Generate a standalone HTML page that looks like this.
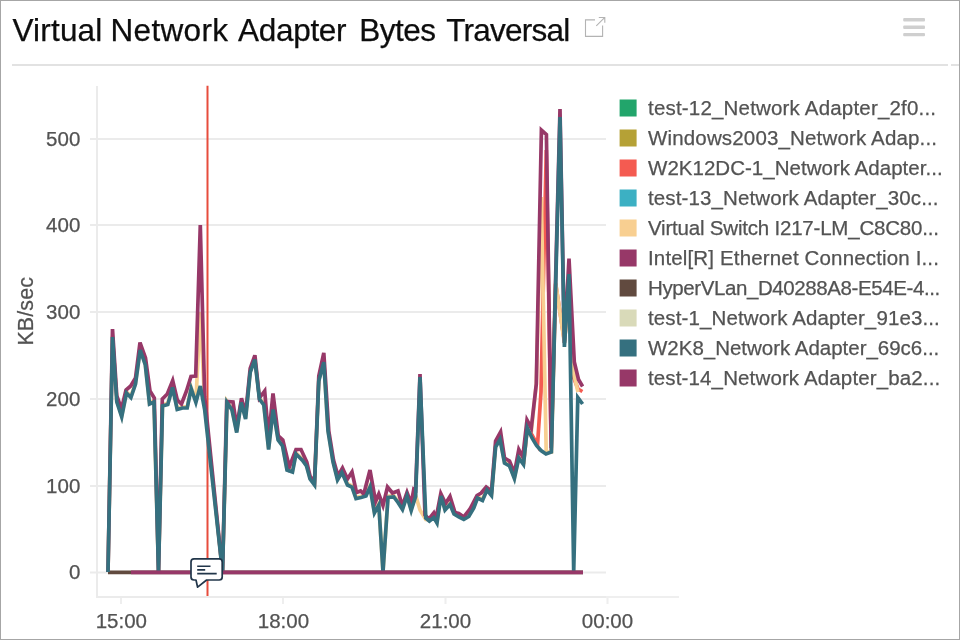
<!DOCTYPE html>
<html><head><meta charset="utf-8"><title>Virtual Network Adapter Bytes Traversal</title>
<style>
html,body{margin:0;padding:0;background:#fff;}
body{width:960px;height:640px;position:relative;overflow:hidden;font-family:"Liberation Sans", sans-serif;}
.frame{position:absolute;left:0;top:0;width:958px;height:638px;border:1px solid #a6a6a6;z-index:5;pointer-events:none}
.title{position:absolute;left:0;top:10px;font-size:31.5px;line-height:40px;color:#0d0d0d;-webkit-text-stroke:0.25px #0d0d0d;white-space:nowrap;height:40px;width:600px}
.title span{position:absolute;top:0;white-space:pre}
.hr{position:absolute;left:12px;top:64.3px;height:1.6px;background:#e2e2e2}
</style></head><body>
<div class="title" id="title"><span style="left:12.5px;letter-spacing:0.18px">Virtual </span><span style="left:110.5px;letter-spacing:0.33px">Network </span><span style="left:238.1px;letter-spacing:-0.31px">Adapter </span><span style="left:359.25px;letter-spacing:-0.5px">Bytes </span><span style="left:446.25px;letter-spacing:-0.77px">Traversal</span></div>
<div class="hr" style="width:936px"></div>
<div class="hr" style="left:951.3px;width:8px"></div>
<svg width="960" height="640" viewBox="0 0 960 640" style="position:absolute;left:0;top:0">
<rect x="90" y="138" width="516" height="2" fill="#ebebeb"/>
<rect x="90" y="224" width="516" height="2" fill="#ebebeb"/>
<rect x="90" y="311" width="516" height="2" fill="#ebebeb"/>
<rect x="90" y="398" width="516" height="2" fill="#ebebeb"/>
<rect x="90" y="485" width="516" height="2" fill="#ebebeb"/>
<rect x="90" y="571.5" width="516" height="2" fill="#ebebeb"/>
<rect x="96" y="86" width="2" height="512" fill="#ebebeb"/>
<rect x="96" y="596" width="510" height="2" fill="#ebebeb"/>
<rect x="606" y="596" width="73" height="2" fill="#efefef"/>
<rect x="120" y="598" width="2" height="6" fill="#eeeeee"/>
<rect x="282" y="598" width="2" height="6" fill="#eeeeee"/>
<rect x="444.5" y="598" width="2" height="6" fill="#eeeeee"/>
<rect x="606.5" y="598" width="2" height="6" fill="#eeeeee"/>
<line x1="207.5" x2="207.5" y1="85.7" y2="596" stroke="#e74c3c" stroke-width="2"/>
<path d="M523.5 464.0 L527.3 428.0 L532.0 435.0 L537.5 445.0 L541.0 392.0 L546.3 150.0 L551.2 450.0 L555.7 284.0 L564.4 341.0 L569.0 296.0 L573.8 378.0 L578.0 389.0 L582.4 391.5" stroke="#f45b51" fill="none" stroke-width="3.7" stroke-linejoin="miter" stroke-linecap="butt"/>
<path d="M108.0 572.0 L112.5 335.8 L116.8 400.8 L121.7 415.8 L126.5 391.8 L130.9 396.3 L135.5 382.8 L140.2 348.8 L145.3 363.8 L149.5 402.8 L154.0 400.8 L158.5 572.0 L162.5 404.8 L167.8 403.3 L172.5 386.3 L177.2 408.3 L182.5 406.8 L187.2 406.8 L191.2 387.5 L195.9 401.3 L200.3 312.0 L204.7 404.0 L222.5 572.0 L227.0 401.3 L232.0 408.8 L236.7 431.3 L241.2 401.3 L245.6 417.8 L250.2 371.3 L254.8 358.3 L259.4 397.8 L263.8 403.8 L268.6 448.3 L273.1 408.3 L278.1 438.8 L282.5 444.8 L287.0 468.8 L292.5 470.8 L296.0 452.8 L302.5 459.3 L306.5 464.8 L310.0 477.8 L314.5 483.8 L318.8 379.8 L323.8 361.0 L328.0 429.8 L333.0 460.8 L337.5 478.8 L341.9 471.3 L347.5 483.8 L351.9 485.8 L356.0 497.3 L361.0 496.3 L366.0 494.8 L370.0 485.8 L374.4 511.8 L378.8 503.8 L383.0 572.0 L388.0 496.3 L393.8 495.8 L398.0 501.3 L402.5 508.3 L407.0 494.8 L411.2 509.3 L415.6 495.3 L420.0 510.0 L425.8 519.5 L429.4 519.8 L433.8 516.3 L437.0 521.8 L441.0 494.8 L445.0 508.8 L450.0 503.3 L454.0 512.8 L458.8 515.8 L463.8 518.3 L468.8 515.3 L473.8 506.8 L477.5 496.8 L482.5 499.3 L487.0 488.8 L491.5 494.3 L495.6 445.8 L500.0 438.3 L504.5 461.8 L509.5 464.8 L514.4 477.3 L518.8 456.8 L523.5 463.3 L527.3 426.8 L531.5 430.0 L536.3 384.0 L541.3 197.0 L546.2 451.5 L551.4 452.0 L555.7 283.0 L564.4 343.0 L569.0 292.0 L573.8 374.0 L578.0 392.0" stroke="#f8cf91" fill="none" stroke-width="3.7" stroke-linejoin="miter" stroke-linecap="butt"/>
<path d="M108.0 572.0 L112.5 329.0 L116.8 396.0 L121.5 409.0 L126.0 390.0 L130.7 386.0 L135.5 378.0 L140.0 342.5 L145.5 358.0 L150.0 391.0 L154.3 398.0 L158.5 572.0 L162.3 399.0 L167.3 394.0 L172.7 380.5 L177.3 400.0 L181.5 404.0 L186.5 391.0 L191.0 376.5 L195.7 376.0 L200.3 225.0 L204.7 397.0 L222.5 572.0 L226.7 401.5 L233.0 402.0 L236.7 427.0 L241.5 398.3 L245.6 414.0 L250.2 368.5 L254.9 355.3 L259.4 398.0 L264.7 391.0 L268.6 438.0 L273.0 393.5 L278.3 436.0 L282.8 440.0 L289.3 467.0 L296.0 449.5 L301.0 449.5 L306.8 462.0 L310.0 476.0 L314.5 482.0 L318.8 376.0 L323.8 352.8 L328.8 431.0 L333.5 460.0 L338.0 476.0 L342.5 468.0 L347.5 479.0 L352.0 472.0 L356.5 492.5 L360.6 491.0 L363.8 494.0 L370.0 470.0 L375.6 501.5 L378.8 494.0 L383.0 505.5 L387.5 487.0 L392.5 493.0 L398.0 491.0 L402.3 506.0 L407.0 492.5 L411.2 503.5 L413.8 489.0 L415.6 490.0 L420.0 374.0 L425.0 515.0 L429.0 519.0 L433.8 513.0 L436.0 518.5 L440.8 493.5 L445.6 503.5 L450.0 496.5 L455.0 512.5 L458.8 513.5 L463.8 517.0 L470.0 509.0 L477.0 495.5 L481.2 493.0 L486.2 487.0 L491.5 491.0 L495.6 441.0 L500.6 432.0 L504.5 458.0 L509.5 461.0 L514.4 473.0 L518.8 449.5 L522.8 457.0 L527.0 420.0 L531.3 428.0 L536.3 384.0 L541.4 130.0 L546.4 134.5 L551.2 448.0 L560.0 109.0 L564.4 343.0 L569.0 258.5 L574.3 362.0 L578.5 379.5 L582.6 386.5" stroke="#973868" fill="none" stroke-width="3.7" stroke-linejoin="miter" stroke-linecap="butt"/>
<path d="M108 572.3 L583 572.3" stroke="#614a3f" fill="none" stroke-width="3.7" stroke-linejoin="miter" stroke-linecap="butt"/>
<path d="M108.0 572.0 L112.5 337.0 L116.8 402.0 L121.7 417.0 L126.5 393.0 L130.9 397.5 L135.5 384.0 L140.2 350.0 L145.3 365.0 L149.5 404.0 L154.0 402.0 L158.5 572.0 L162.5 406.0 L167.8 404.5 L172.5 387.5 L177.2 409.5 L182.5 408.0 L187.2 408.0 L191.2 388.7 L195.9 402.5 L200.3 386.0 L204.7 410.0 L222.5 572.0 L227.0 402.5 L232.0 410.0 L236.7 432.5 L241.2 402.5 L245.6 419.0 L250.2 372.5 L254.8 359.5 L259.4 399.0 L263.8 405.0 L268.6 449.5 L273.1 409.5 L278.1 440.0 L282.5 446.0 L287.0 470.0 L292.5 472.0 L296.0 454.0 L302.5 460.5 L306.5 466.0 L310.0 479.0 L314.5 485.0 L318.8 381.0 L323.8 362.2 L328.0 431.0 L333.0 462.0 L337.5 480.0 L341.9 472.5 L347.5 485.0 L351.9 487.0 L356.0 498.5 L361.0 497.5 L366.0 496.0 L370.0 487.0 L374.4 513.0 L378.8 505.0 L383.0 572.0 L388.0 497.5 L393.8 497.0 L398.0 502.5 L402.5 509.5 L407.0 496.0 L411.2 510.5 L415.6 496.5 L420.0 377.0 L425.8 518.0 L429.4 521.0 L433.8 517.5 L437.0 523.0 L441.0 496.0 L445.0 510.0 L450.0 504.5 L454.0 514.0 L458.8 517.0 L463.8 519.5 L468.8 516.5 L473.8 508.0 L477.5 498.0 L482.5 500.5 L487.0 490.0 L491.5 495.5 L495.6 447.0 L500.0 439.5 L504.5 463.0 L509.5 466.0 L514.4 478.5 L518.8 458.0 L523.5 464.5 L527.3 428.0 L532.0 438.0 L536.5 445.5 L541.0 450.5 L546.0 454.0 L551.4 452.0 L560.0 117.0 L564.4 347.0 L569.0 274.0 L573.7 572.0 L577.8 397.5 L582.6 404.0" stroke="#35707f" fill="none" stroke-width="3.7" stroke-linejoin="miter" stroke-linecap="butt"/>
<path d="M131 572.3 L583 572.3" stroke="#973868" fill="none" stroke-width="3.7" stroke-linejoin="miter" stroke-linecap="butt"/>
<path d="M194 558.9 H219.2 Q222.2 558.9 222.2 561.9 V577 Q222.2 580 219.2 580 H206.6 L197.6 587.2 L196 580 H194 Q191 580 191 577 V561.9 Q191 558.9 194 558.9 Z" fill="#fff" stroke="#22364a" stroke-width="1.7" stroke-linejoin="round"/>
<path d="M197.2 566.3 H210.5 M197.2 569.9 H205.2 M197.2 573.6 H216.7" stroke="#22364a" stroke-width="1.6" fill="none"/>
<text x="80.3" y="145.5" text-anchor="end" font-family='&quot;Liberation Sans&quot;, sans-serif' font-size="20.5" fill="#535353" stroke="#535353" stroke-width="0.25">500</text>
<text x="80.3" y="231.5" text-anchor="end" font-family='&quot;Liberation Sans&quot;, sans-serif' font-size="20.5" fill="#535353" stroke="#535353" stroke-width="0.25">400</text>
<text x="80.3" y="318.5" text-anchor="end" font-family='&quot;Liberation Sans&quot;, sans-serif' font-size="20.5" fill="#535353" stroke="#535353" stroke-width="0.25">300</text>
<text x="80.3" y="405.5" text-anchor="end" font-family='&quot;Liberation Sans&quot;, sans-serif' font-size="20.5" fill="#535353" stroke="#535353" stroke-width="0.25">200</text>
<text x="80.3" y="492.5" text-anchor="end" font-family='&quot;Liberation Sans&quot;, sans-serif' font-size="20.5" fill="#535353" stroke="#535353" stroke-width="0.25">100</text>
<text x="80.3" y="579.0" text-anchor="end" font-family='&quot;Liberation Sans&quot;, sans-serif' font-size="20.5" fill="#535353" stroke="#535353" stroke-width="0.25">0</text>
<text x="121.3" y="627.6" text-anchor="middle" font-family='&quot;Liberation Sans&quot;, sans-serif' font-size="20.5" fill="#535353" stroke="#535353" stroke-width="0.25">15:00</text>
<text x="283.4" y="627.6" text-anchor="middle" font-family='&quot;Liberation Sans&quot;, sans-serif' font-size="20.5" fill="#535353" stroke="#535353" stroke-width="0.25">18:00</text>
<text x="445.5" y="627.6" text-anchor="middle" font-family='&quot;Liberation Sans&quot;, sans-serif' font-size="20.5" fill="#535353" stroke="#535353" stroke-width="0.25">21:00</text>
<text x="607.5" y="627.6" text-anchor="middle" font-family='&quot;Liberation Sans&quot;, sans-serif' font-size="20.5" fill="#535353" stroke="#535353" stroke-width="0.25">00:00</text>
<text transform="translate(32.7 311.3) rotate(-90)" text-anchor="middle" textLength="68.5" lengthAdjust="spacing" font-family='&quot;Liberation Sans&quot;, sans-serif' font-size="21.4" fill="#535353" stroke="#535353" stroke-width="0.25">KB/sec</text>
<rect x="619.6" y="99.5" width="17" height="17" fill="#22a56b"/>
<text x="648" y="115.3" textLength="288" lengthAdjust="spacing" font-family='&quot;Liberation Sans&quot;, sans-serif' font-size="20.5" fill="#535353" stroke="#535353" stroke-width="0.25">test-12_Network Adapter_2f0...</text>
<rect x="619.6" y="129.5" width="17" height="17" fill="#b5a136"/>
<text x="648" y="145.3" textLength="289" lengthAdjust="spacing" font-family='&quot;Liberation Sans&quot;, sans-serif' font-size="20.5" fill="#535353" stroke="#535353" stroke-width="0.25">Windows2003_Network Adap...</text>
<rect x="619.6" y="159.5" width="17" height="17" fill="#f45b51"/>
<text x="648" y="175.3" textLength="294.6" lengthAdjust="spacing" font-family='&quot;Liberation Sans&quot;, sans-serif' font-size="20.5" fill="#535353" stroke="#535353" stroke-width="0.25">W2K12DC-1_Network Adapter...</text>
<rect x="619.6" y="189.5" width="17" height="17" fill="#3cb0c3"/>
<text x="648" y="205.3" textLength="290.5" lengthAdjust="spacing" font-family='&quot;Liberation Sans&quot;, sans-serif' font-size="20.5" fill="#535353" stroke="#535353" stroke-width="0.25">test-13_Network Adapter_30c...</text>
<rect x="619.6" y="219.5" width="17" height="17" fill="#f8cf91"/>
<text x="648" y="235.3" textLength="290.9" lengthAdjust="spacing" font-family='&quot;Liberation Sans&quot;, sans-serif' font-size="20.5" fill="#535353" stroke="#535353" stroke-width="0.25">Virtual Switch I217-LM_C8C80...</text>
<rect x="619.6" y="249.5" width="17" height="17" fill="#973868"/>
<text x="648" y="265.3" textLength="290.9" lengthAdjust="spacing" font-family='&quot;Liberation Sans&quot;, sans-serif' font-size="20.5" fill="#535353" stroke="#535353" stroke-width="0.25">Intel[R] Ethernet Connection I...</text>
<rect x="619.6" y="279.5" width="17" height="17" fill="#614a3f"/>
<text x="648" y="295.3" textLength="292.2" lengthAdjust="spacing" font-family='&quot;Liberation Sans&quot;, sans-serif' font-size="20.5" fill="#535353" stroke="#535353" stroke-width="0.25">HyperVLan_D40288A8-E54E-4...</text>
<rect x="619.6" y="309.5" width="17" height="17" fill="#d9dab9"/>
<text x="648" y="325.3" textLength="291.8" lengthAdjust="spacing" font-family='&quot;Liberation Sans&quot;, sans-serif' font-size="20.5" fill="#535353" stroke="#535353" stroke-width="0.25">test-1_Network Adapter_91e3...</text>
<rect x="619.6" y="339.5" width="17" height="17" fill="#35707f"/>
<text x="648" y="355.3" textLength="291.3" lengthAdjust="spacing" font-family='&quot;Liberation Sans&quot;, sans-serif' font-size="20.5" fill="#535353" stroke="#535353" stroke-width="0.25">W2K8_Network Adapter_69c6...</text>
<rect x="619.6" y="369.5" width="17" height="17" fill="#973868"/>
<text x="648" y="385.3" textLength="292.2" lengthAdjust="spacing" font-family='&quot;Liberation Sans&quot;, sans-serif' font-size="20.5" fill="#535353" stroke="#535353" stroke-width="0.25">test-14_Network Adapter_ba2...</text>
<path d="M595 19.9 H585.5 V36.4 H602.6 V25.6 M596.3 25.8 L604.6 17.6 M598.8 17.5 H604.8 V22.8" fill="none" stroke="#b3b3b3" stroke-width="1.1"/>
<rect x="903.2" y="18.1" width="21.8" height="3.4" rx="1" fill="#cfcfcf"/>
<rect x="903.2" y="25.5" width="21.8" height="3.4" rx="1" fill="#cfcfcf"/>
<rect x="903.2" y="32.9" width="21.8" height="3.4" rx="1" fill="#cfcfcf"/>
</svg>
<div class="frame"></div>
</body></html>
